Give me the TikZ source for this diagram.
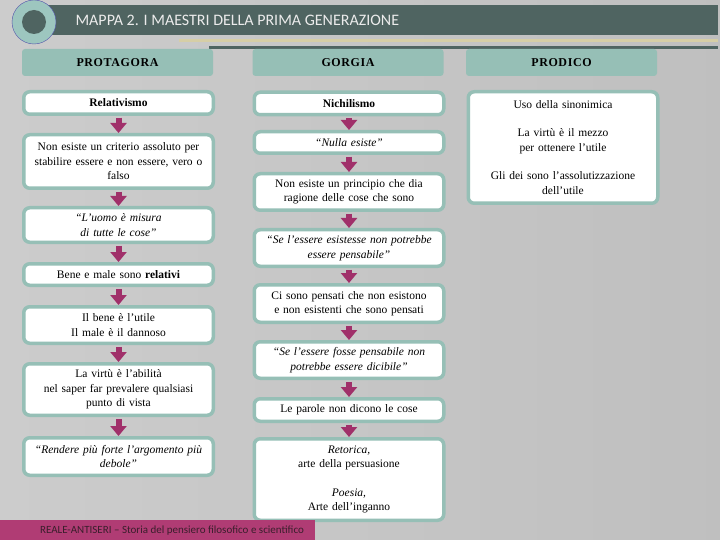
\documentclass[tikz,border=0pt]{standalone}
\usepackage{fontspec}
\setmainfont{Liberation Serif}
\newfontfamily\slidefont{Carlito}
\usepackage{tikz}
\usetikzlibrary{arrows.meta}
\usepackage{xcolor}
\definecolor{slate}{HTML}{4F6461}
\definecolor{sage}{HTML}{96BFB6}
\definecolor{ring}{HTML}{9DC6BF}
\definecolor{plum}{HTML}{A0306A}
\definecolor{tab}{HTML}{B03C74}
\definecolor{straw}{HTML}{D6CEA6}
\definecolor{ink}{HTML}{3A1F2C}

\begin{document}
\begin{tikzpicture}[
    x=1pt,y=-1pt,
    box/.style={draw=sage,line width=3.5pt,rounded corners=6pt,fill=white,text width=182pt,inner xsep=3.75pt,inner ysep=2pt,align=center,font=\fontsize{11.5}{14.5}\selectfont},
    head/.style={fill=sage,rounded corners=3pt,minimum width=191pt,minimum height=27pt,font=\bfseries\fontsize{12}{14}\selectfont\addfontfeature{LetterSpace=5}},
    arr/.style={plum,line width=6pt,-{Triangle[length=10pt,width=16pt]},shorten <=1.75pt}
]
\useasboundingbox (0,0) rectangle (720,540);
\shade[left color=black!20,middle color=black!12,right color=black!25] (0,0) rectangle (720,540);

% title bar
\fill[slate] (32,5) rectangle (718,35);
\fill[straw] (179,39) rectangle (718,42);
\fill[slate] (209,46) rectangle (718,49);
\filldraw[fill=ring,draw=blue!35!gray,thin] (34,22) circle (22pt);
\fill[slate] (34,22) circle (12pt);
\node[anchor=west,text=white!92!black,font=\slidefont\fontsize{16}{18}\selectfont] (title) at (72,20) {MAPPA 2. I MAESTRI DELLA PRIMA GENERAZIONE};

\node[head] (protagora) at (117.5,62.5) {PROTAGORA};
\node[head] (gorgia) at (348,62.5) {GORGIA};
\node[head] (prodico) at (561.5,62.5) {PRODICO};

% Protagora
\node[box,minimum height=22.5pt] (L1) at (118.5,103) {\textbf{Relativismo}};
\node[box,minimum height=53.5pt] (L2) at (118.5,161.5) {Non esiste un criterio assoluto per\\ stabilire essere e non essere, vero o\\ falso};
\node[box,minimum height=34.5pt] (L3) at (118.5,225) {\textit{“L’uomo è misura\\ di tutte le cose”}};
\node[box,minimum height=21.5pt] (L4) at (118.5,274.5) {Bene e male sono \textbf{relativi}};
\node[box,minimum height=36.5pt] (L5) at (118.5,325) {Il bene è l’utile\\ Il male è il dannoso};
\node[box,minimum height=51.5pt] (L6) at (118.5,389.5) {La virtù è l’abilità\\ nel saper far prevalere qualsiasi\\ punto di vista};
\node[box,minimum height=37.5pt] (L7) at (118.5,456.5) {\textit{“Rendere più forte l’argomento più\\ debole”}};

% Gorgia
\node[box,minimum height=22.5pt] (M1) at (349,103.5) {\textbf{Nichilismo}};
\node[box,minimum height=21.5pt] (M2) at (349,142.5) {\textit{“Nulla esiste”}};
\node[box,minimum height=36.5pt] (M3) at (349,192) {Non esiste un principio che dia\\ ragione delle cose che sono};
\node[box,minimum height=36.5pt] (M4) at (349,248) {\textit{“Se l’essere esistesse non potrebbe\\ essere pensabile”}};
\node[box,minimum height=37.5pt] (M5) at (349,303.5) {Ci sono pensati che non esistono\\ e non esistenti che sono pensati};
\node[box,minimum height=36.5pt] (M6) at (349,360) {\textit{“Se l’essere fosse pensabile non\\ potrebbe essere dicibile”}};
\node[box,minimum height=22.5pt] (M7) at (349,410) {Le parole non dicono le cose};
\node[box,minimum height=81.5pt] (M8) at (349,479.5) {\textit{Retorica,}\\ arte della persuasione\\[14pt] \textit{Poesia,}\\ Arte dell’inganno};

% Prodico
\node[box,minimum height=111.5pt] (R1) at (563,147.5) {Uso della sinonimica\\[14pt] La virtù è il mezzo\\ per ottenere l’utile\\[14pt] Gli dei sono l’assolutizzazione\\ dell’utile};

\foreach \a/\b in {L1/L2,L2/L3,L3/L4,L4/L5,L5/L6,L6/L7,M1/M2,M2/M3,M3/M4,M4/M5,M5/M6,M6/M7,M7/M8}
  \draw[arr] (\a.south) -- (\b.north);

% footer
\fill[tab] (0,520) rectangle (315,540);
\node[text=ink,font=\slidefont\fontsize{11}{12}\selectfont] (source) at (172,530.5) {REALE-ANTISERI – Storia del pensiero filosofico e scientifico};
\end{tikzpicture}
\end{document}
